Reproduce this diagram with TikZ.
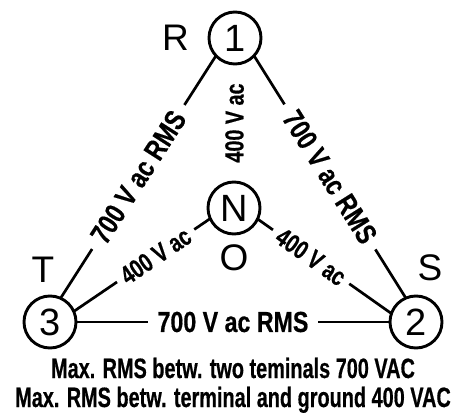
\documentclass[tikz,border=0pt]{standalone}
\usepackage{fontspec}
\setmainfont{Liberation Sans}
\newfontfamily\valfont{Liberation Sans}[FakeStretch=0.8,FakeBold=0.5]
\newfontfamily\lowfont{Liberation Sans}[FakeStretch=0.76,FakeBold=0.5]
\newfontfamily\notefont{Liberation Sans}[FakeStretch=0.71,FakeBold=0.5]
\usetikzlibrary{positioning}

\tikzset{
  terminal/.style={draw, circle, line width=2.9pt, minimum size=52pt,
    inner sep=0pt, outer sep=0pt, font=\fontsize{38}{38}\selectfont},
  phase/.style={inner sep=0pt, font=\fontsize{37}{37}\selectfont},
  wire/.style={line width=2.7pt},
  hival/.style={fill=white, inner xsep=10pt, inner ysep=2pt,
    font=\valfont\bfseries\fontsize{29}{29}\selectfont},
  loval/.style={fill=white, inner xsep=7pt, inner ysep=2pt,
    font=\lowfont\bfseries\fontsize{26}{26}\selectfont},
  note/.style={inner sep=0pt, anchor=base,
    font=\notefont\bfseries\fontsize{28}{28}\selectfont}
}

\begin{document}
\begin{tikzpicture}[x=1pt,y=1pt]
    \useasboundingbox (0,0) rectangle (454,412);

    % terminals
    \node[terminal] (c1) at (235,374) {1};
    \node[terminal] (cN) at (234,204) {N};
    \node[terminal] (c3) at (50,90) {3};
    \node[terminal] (c2) at (416,90) {2};

    \node[phase, left=20pt of c1] (pR) {R};
    \node[phase, below=10pt of cN] (pO) {O};
    \node[phase, above=13pt of c3, xshift=-7pt] (pT) {T};
    \node[phase, above=15pt of c2, xshift=14pt] (pS) {S};

    % phase to phase
    \draw[wire] (c1.223) -- node[hival, sloped] (v13) {700 V ac RMS} (c3.66);
    \draw[wire] (c1.-43) -- node[hival, sloped] (v12) {700 V ac RMS} (c2.113);
    \draw[wire] (c3) -- node[hival] (v32) {700 V ac RMS} (c2);

    % phase to neutral
    \draw[wire] (cN.204) -- node[loval, sloped, pos=0.4] (vN3) {400 V ac} (c3.24);
    \draw[wire] (cN.-25) -- node[loval, sloped, pos=0.4] (vN2) {400 V ac} (c2.161);
    \path (cN) -- node[loval, sloped] (vN1) {400 V ac} (c1);

    \node[note] (n1) at (233,34) {Max. RMS betw. two teminals 700 VAC};
    \node[note] (n2) at (233,5) {Max. RMS betw. terminal and ground 400 VAC};
\end{tikzpicture}
\end{document}
